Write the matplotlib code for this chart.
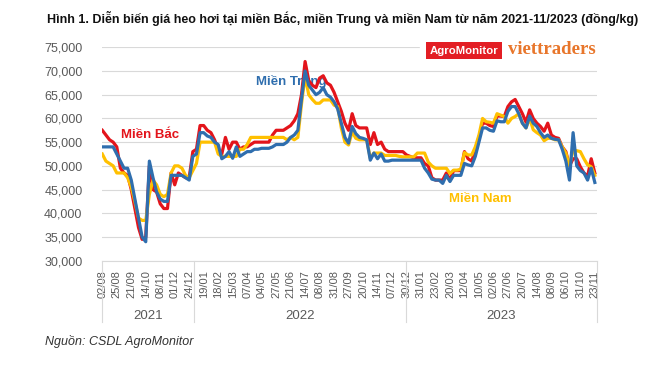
import matplotlib
matplotlib.use("Agg")
import matplotlib.pyplot as plt
import matplotlib.transforms as mtransforms
from matplotlib.patches import Rectangle
from matplotlib.ticker import FuncFormatter
import numpy as np

plt.rcParams['font.family'] = ['Liberation Sans', 'DejaVu Sans']

tick_labels = ["02/08", "25/08", "21/09", "14/10", "08/11", "01/12", "24/12",
               "19/01", "18/02", "15/03", "07/04", "04/05", "27/05", "21/06", "14/07",
               "08/08", "31/08", "27/09", "20/10", "14/11", "07/12", "30/12",
               "31/01", "23/02", "20/03", "12/04", "10/05", "02/06", "27/06", "20/07",
               "14/08", "08/09", "06/10", "31/10", "23/11"]
years = ["2021", "2022", "2023"]
year_bounds = [0.0, 6.3, 20.95, 34.15]
points_per_label = 4

mien_bac = [57500, 56500, 55500, 55000, 54000, 49500, 48500, 48000, 45000, 41000,
            37000, 34500, 35000, 50000, 45000, 44500, 42000, 41000, 41000, 48500,
            46000, 48500, 48000, 47500, 47500, 53000, 53500, 58500,
            58500, 57500, 57000, 55500, 53500, 52500, 56000, 53500, 55000, 55000,
            53500, 54000, 54000, 54500, 55000, 55000, 55000, 55000, 55000, 56500,
            57500, 57500, 57500, 58000, 58500, 59500, 61000, 65000, 72000, 68000,
            67000, 66500, 68500, 69000, 67500, 67000, 65500, 63500, 61500, 59000,
            57500, 61000, 58500, 58000, 58000, 58000, 54500, 57000, 54500, 55000,
            53500, 53000, 53000, 53000, 53000, 53000, 52300, 52000, 51700, 51700,
            51700, 50500, 50000, 47500, 47000, 47000, 47000, 48500, 47000, 49000,
            49000, 49000, 53000, 51500, 51000, 53300, 56000, 59000, 59000, 58500,
            58300, 60500, 60500, 60400, 62500, 63500, 64000, 62500, 61000, 59200,
            61800, 60000, 59000, 58300, 57300, 59000, 56500, 56000, 55800, 54000,
            53000, 50000, 51500, 51500, 49800, 48500, 47800, 51500, 48500]

mien_trung = [54000, 54000, 54000, 54000, 52500, 51000, 49500, 49500, 47000, 43000,
              39000, 35000, 34000, 51000, 47500, 44500, 43000, 42500, 42500, 48000,
              48000, 48000, 48000, 47500, 47000, 52000, 52500, 57000,
              57000, 56300, 56000, 55000, 54500, 51500, 52000, 53000, 51600, 54000,
              52000, 52500, 53000, 53000, 53500, 53500, 53700, 53700, 53700, 54000,
              54500, 54500, 54500, 55000, 56000, 56500, 57500, 64000, 70000, 67000,
              66000, 65000, 65500, 66500, 65000, 64500, 63500, 62000, 59000, 56000,
              54800, 58300, 56800, 56000, 55800, 55500, 51200, 52700, 51500, 52500,
              51000, 51000, 51200, 51200, 51200, 51200, 51200, 51200, 51200, 51200,
              51200, 49500, 48500, 47200, 47000, 47000, 46300, 48000, 46700, 48000,
              48000, 48000, 50500, 50200, 50000, 52000, 55000, 58000, 58000, 57500,
              57300, 59500, 59300, 59300, 61500, 62500, 62500, 61000, 59000, 58000,
              60500, 59000, 58300, 57000, 56000, 56500, 55800, 55600, 55500, 53500,
              51000, 47000, 57000, 50000, 49000, 48500, 47000, 49500, 46500]

mien_nam = [52500, 51000, 50500, 50000, 48500, 48500, 48500, 47500, 45500, 42500,
            39000, 38500, 38500, 44000, 47000, 46000, 44000, 43500, 44000, 48500,
            50000, 50000, 49500, 48000, 47500, 49000, 50500, 55000,
            55000, 55000, 55000, 55000, 52500, 52000, 52000, 52000, 52000, 52000,
            53500, 53500, 54500, 56000, 56000, 56000, 56000, 56000, 56000, 56000,
            56000, 56000, 56000, 55500, 56000, 55500, 56000, 63000, 69000, 65000,
            64000, 63200, 63200, 63900, 63900, 63900, 62800, 62500, 58000, 55000,
            54400, 57200, 55800, 55500, 55500, 55500, 51600, 52700, 52700, 52700,
            52200, 52200, 52200, 52200, 52000, 51900, 51900, 51900, 51900, 52700,
            52700, 52700, 50800, 50000, 49500, 49500, 49500, 49500, 48400, 49100,
            49100, 49300, 52800, 52300, 52300, 54000, 56500, 60000, 59300, 59200,
            59000, 61000, 60700, 60400, 59000, 60000, 60400, 61000, 59000, 58000,
            60000, 57600, 57000, 56500, 55300, 55800, 55800, 55500, 55500, 54000,
            52700, 50000, 53300, 53200, 53000, 51500, 50200, 49800, 48000]

RED = "#E3141B"
BLUE = "#2F6EAE"
YELLOW = "#FFC000"
GRAY_TXT = "#595959"

fig = plt.figure(figsize=(6.5, 3.66), dpi=100)
ax = fig.add_axes([102/650, 1-260.7/366, (597-102)/650, (260.7-47.3)/366])

x = np.arange(len(mien_bac)) / points_per_label
ax.plot(x, mien_bac, color=RED, lw=2.3, zorder=3, solid_joinstyle='round')
ax.plot(x, mien_nam, color=YELLOW, lw=2.3, zorder=4, solid_joinstyle='round')
ax.plot(x, mien_trung, color=BLUE, lw=2.3, zorder=5, solid_joinstyle='round')

ax.set_ylim(30000, 75000)
ax.set_yticks(np.arange(30000, 75001, 5000))
ax.yaxis.set_major_formatter(FuncFormatter(lambda v, p: f"{int(v):,}"))
ax.set_xlim(year_bounds[0] - 0.02, year_bounds[-1])
ax.set_xticks(np.arange(len(tick_labels)))
ax.set_xticklabels(tick_labels, rotation=90, fontsize=8, color=GRAY_TXT)
ax.tick_params(axis='x', length=0, pad=7)
ax.tick_params(axis='y', length=0, pad=14, labelsize=9, labelcolor=GRAY_TXT)
ax.grid(axis='y', color='#D9D9D9', lw=0.8, zorder=0)
for s in ['top', 'right', 'left']:
    ax.spines[s].set_visible(False)
ax.spines['bottom'].set_color('#D9D9D9')
ax.spines['bottom'].set_linewidth(0.8)

trans = mtransforms.blended_transform_factory(ax.transData, ax.transAxes)
for b in year_bounds:
    ax.plot([b, b], [0, -0.288], transform=trans, color='#D9D9D9', lw=0.8, clip_on=False)
for i, yr in enumerate(years):
    ax.text((year_bounds[i] + year_bounds[i+1]) / 2, -0.257, yr, transform=trans,
            ha='center', va='center', fontsize=9.5, color=GRAY_TXT)

ax.text(1.3, 56500, "Miền Bắc", color=RED, fontsize=9.5, fontweight='bold',
        ha='left', va='center', zorder=2)
ax.text(10.6, 67700, "Miền Trung", color=BLUE, fontsize=9.5, fontweight='bold',
        ha='left', va='center', zorder=2)
ax.text(23.9, 43000, "Miền Nam", color=YELLOW, fontsize=9.5, fontweight='bold',
        ha='left', va='center', zorder=2)

fig.text(343/650, 1-18/366,
         "Hình 1. Diễn biến giá heo hơi tại miền Bắc, miền Trung và miền Nam từ năm 2021-11/2023 (đồng/kg)",
         ha='center', va='center', fontsize=9, fontweight='bold', color='#111111')

fig.patches.append(Rectangle((420/650, 1-60/366), 185/650, 20/366,
                             transform=fig.transFigure, color='white', zorder=5))
fig.text(464/650, 1-50.5/366, "AgroMonitor", ha='center', va='center', fontsize=8.2,
         fontweight='bold', color='white', zorder=6,
         bbox=dict(boxstyle='square,pad=0.3', fc='#E31E24', ec='none'))
fig.text(508/650, 1-50/366, "viettraders", ha='left', va='center', fontsize=13.5,
         fontweight='bold', color='#E8762B', family='Liberation Serif', zorder=6)

fig.text(45/650, 1-342/366, "Nguồn: CSDL AgroMonitor", ha='left', va='center',
         fontsize=9, style='italic', color='#333333')

fig.savefig("out.png", dpi=100)
